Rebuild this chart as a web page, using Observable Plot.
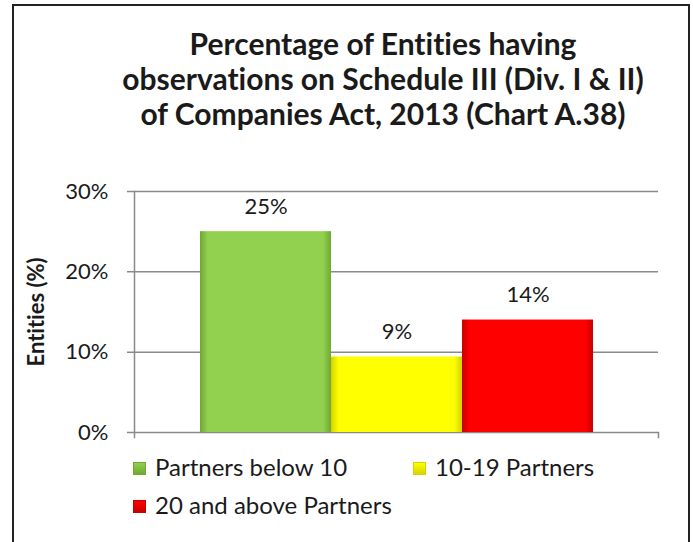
<!DOCTYPE html>
<html>
<head>
<meta charset="utf-8">
<script src="https://cdn.jsdelivr.net/npm/d3@7"></script>
<script src="https://cdn.jsdelivr.net/npm/@observablehq/plot@0.6"></script>
<style>
  html, body { margin: 0; padding: 0; background: #fff; }
  #wrap { position: relative; width: 693px; height: 542px; overflow: hidden; font-family: Lato, "Open Sans", sans-serif; color: #1a1a1a; font-variant-ligatures: none; font-feature-settings: "liga" 0; }
  #wrap svg text { font-variant-ligatures: none; font-feature-settings: "liga" 0; }
  #border { position: absolute; left: 12px; top: 4px; width: 674px; height: 600px; border: 2px solid #222; border-bottom: none; }
  #title { position: absolute; left: 83px; width: 600px; top: 26px; text-align: center; font-weight: bold; font-size: 30px; line-height: 35px; white-space: nowrap; }
  #chart { position: absolute; left: 0; top: 170px; }
  .leg { position: absolute; font-size: 24px; line-height: 24px; white-space: nowrap; }
  .sw { position: absolute; width: 11px; height: 11px; }
</style>
</head>
<body>
<div id="wrap">
  <div id="border"></div>
  <div id="title"></div>
  <div id="chart"></div>
  <div id="legend"></div>
</div>
<script>
const titleLines = ["Percentage of Entities having", "observations on Schedule III (Div. I & II)", "of Companies Act, 2013 (Chart A.38)"];
const categories = ["Partners below 10", "10-19 Partners", "20 and above Partners"];
const values = [25, 9.4, 14];
const valueLabels = ["25%", "9%", "14%"];
const yTicks = [0, 10, 20, 30];
const yLabel = "Entities (%)";
const colors = ["#92D050", "#FFFF00", "#FF0000"];
const edgeColors = ["#6FA832", "#D4D400", "#C80000"];

document.getElementById("title").innerHTML = titleLines.join("<br>");

const data = categories.map((c, i) => ({cat: c, value: values[i], label: valueLabels[i]}));
const gradIds = categories.map((c, i) => "bev" + i);

const plot = Plot.plot({
  width: 693,
  height: 280,
  marginTop: 21,
  marginBottom: 18,
  marginLeft: 134,
  marginRight: 35,
  style: {fontFamily: "Lato, 'Open Sans', sans-serif", fontSize: "22px", color: "#1a1a1a", background: "transparent"},
  x: {domain: categories, paddingInner: 0, paddingOuter: 0.494, axis: null},
  y: {domain: [0, 30], axis: null},
  color: {domain: categories, range: gradIds.map(id => `url(#${id})`)},
  marks: [
    Plot.ruleY(yTicks, {y: d => d, stroke: "#8a8a8a", strokeWidth: 1.5, insetLeft: -7}),
    Plot.axisY(yTicks, {tickSize: 0, tickPadding: 26, tickFormat: d => d + "%", fontSize: 22, fill: "#1a1a1a", label: null}),
    Plot.frame({anchor: "left", stroke: "#8a8a8a", strokeWidth: 1.5, insetBottom: -5}),
    Plot.frame({anchor: "right", stroke: "#8a8a8a", strokeWidth: 1.5, insetTop: 241, insetBottom: -5}),
    Plot.barY(data, {x: "cat", y: "value", fill: "cat"}),
    Plot.text(data, {x: "cat", y: "value", text: "label", dy: -25, fontSize: 22, fill: "#1a1a1a"}),
    Plot.text([yLabel], {frameAnchor: "left", text: d => d, rotate: -90, textAnchor: "middle", dx: -98, fontWeight: "bold", fontSize: 22, fill: "#1a1a1a"})
  ]
});

// bevel-like gradients
const defs = document.createElementNS("http://www.w3.org/2000/svg", "defs");
defs.innerHTML = categories.map((c, i) => `
  <linearGradient id="${gradIds[i]}" x1="0" y1="0" x2="1" y2="0">
    <stop offset="0" stop-color="${edgeColors[i]}"/>
    <stop offset="0.06" stop-color="${colors[i]}"/>
    <stop offset="0.94" stop-color="${colors[i]}"/>
    <stop offset="1" stop-color="${edgeColors[i]}"/>
  </linearGradient>`).join("");
plot.insertBefore(defs, plot.firstChild);
document.getElementById("chart").appendChild(plot);

// legend
const legendPos = [[133, 455], [413, 455], [133, 493]];
const legend = document.getElementById("legend");
categories.forEach((c, i) => {
  const [lx, ly] = legendPos[i];
  const sw = document.createElement("div");
  sw.className = "sw";
  sw.style.left = lx + "px";
  sw.style.top = (ly + 7) + "px";
  sw.style.background = `linear-gradient(${colors[i]}, ${edgeColors[i]})`;
  sw.style.border = `1px solid ${edgeColors[i]}`;
  legend.appendChild(sw);
  const t = document.createElement("div");
  t.className = "leg";
  t.style.left = (lx + 22) + "px";
  t.style.top = ly + "px";
  t.textContent = c;
  legend.appendChild(t);
});
</script>
</body>
</html>
